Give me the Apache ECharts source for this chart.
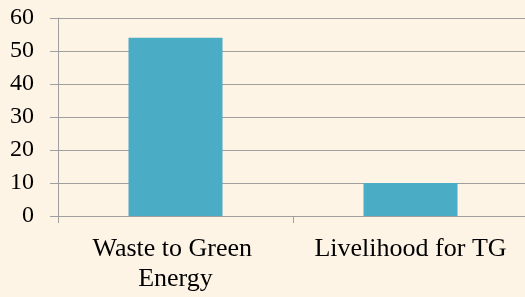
<!DOCTYPE html>
<html>
<head>
<meta charset="utf-8">
<script src="https://cdn.jsdelivr.net/npm/echarts@6/dist/echarts.min.js"></script>
<style>
  html, body { margin: 0; padding: 0; background: #fdf4e6; }
  #chart { width: 525px; height: 297px; }
</style>
</head>
<body>
<div id="chart"></div>
<script>
const categories = ['Waste to Green Energy', 'Livelihood for TG']
const values = [54, 10]
const yTicks = [0, 10, 20, 30, 40, 50, 60]

const chart = echarts.init(document.getElementById('chart'))

chart.setOption({
  backgroundColor: '#fdf4e6',
  animation: false,
  grid: { left: 58, width: 470, top: 18, bottom: 81, outerBoundsMode: 'none' },
  xAxis: {
    type: 'category',
    data: categories,
    axisLine: { lineStyle: { color: '#9f9f9f', width: 1 } },
    axisTick: { show: true, length: 7, lineStyle: { color: '#9f9f9f' } },
    axisLabel: {
      color: '#000',
      fontFamily: 'Liberation Serif',
      fontSize: 26,
      lineHeight: 30,
      margin: 18,
      interval: 0,
      width: 232,
      overflow: 'break'
    }
  },
  yAxis: {
    type: 'value',
    min: yTicks[0],
    max: yTicks[yTicks.length - 1],
    interval: 10,
    axisLine: { show: true, lineStyle: { color: '#9f9f9f', width: 1 } },
    axisTick: { show: true, length: 8, lineStyle: { color: '#9f9f9f' } },
    splitLine: { lineStyle: { color: '#9f9f9f', width: 1 } },
    axisLabel: {
      color: '#000',
      fontFamily: 'Liberation Serif',
      fontSize: 24,
      margin: 24
    }
  },
  series: [
    {
      type: 'bar',
      data: values,
      barWidth: '40%',
      itemStyle: { color: '#4bacc6' }
    }
  ]
})
</script>
</body>
</html>
